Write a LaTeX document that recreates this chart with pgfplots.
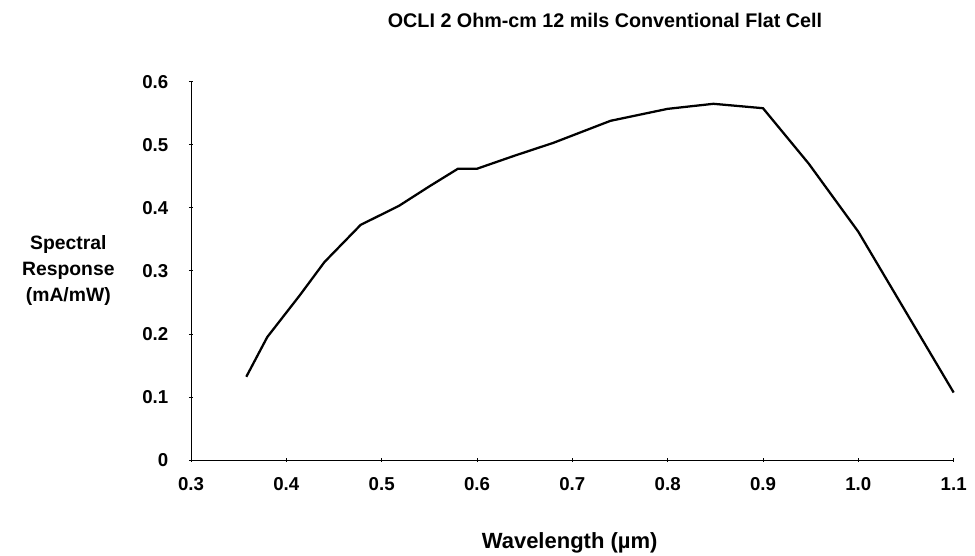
\documentclass[border=0pt]{standalone}
\usepackage{fontspec}
\setmainfont{Liberation Sans}
\usepackage{pgfplots}
\pgfplotsset{compat=1.18}
\begin{document}
\begin{tikzpicture}
\useasboundingbox (-143.25pt,-72pt) rectangle (588pt,345pt);
\begin{axis}[
  at={(0,0)}, anchor=south west,
  scale only axis,
  width=572pt, height=283.7pt,
  xmin=0.3, xmax=1.1, ymin=0, ymax=0.6,
  axis x line=bottom, axis y line=left,
  axis line style={-, line width=0.6pt},
  xtick={0.3,0.4,...,1.1},
  xticklabels={0.3,0.4,0.5,0.6,0.7,0.8,0.9,1.0,1.1},
  ytick={0,0.1,...,0.6},
  yticklabels={0,0.1,0.2,0.3,0.4,0.5,0.6},
  tick align=center,
  major tick length=3pt,
  tick style={line width=0.6pt, black},
  /pgf/number format/assume math mode=true,
  ticklabel style={font=\fontsize{14}{16}\selectfont\bfseries},
  xticklabel style={yshift=-8pt},
  yticklabel style={xshift=-12pt},
  clip=false,
]
\addplot[black, line width=1.7pt] coordinates {
(0.358,0.132)
(0.380,0.195)
(0.414,0.261)
(0.440,0.314)
(0.478,0.373)
(0.518,0.403)
(0.550,0.434)
(0.580,0.462)
(0.600,0.462)
(0.640,0.483)
(0.680,0.503)
(0.740,0.538)
(0.800,0.557)
(0.848,0.565)
(0.900,0.558)
(0.948,0.470)
(1.000,0.362)
(1.100,0.107)
};
\end{axis}
\node[font=\fontsize{14.8}{17}\selectfont\bfseries] at (310.5pt,330pt) {OCLI 2 Ohm-cm 12 mils Conventional Flat Cell};
\node[font=\fontsize{14.5}{19.5}\selectfont\bfseries, align=center] at (-92pt,142pt) {Spectral\\Response\\(mA/mW)};
\node[font=\fontsize{16.5}{18}\selectfont\bfseries] at (284pt,-62pt) {Wavelength (µm)};
\end{tikzpicture}
\end{document}
